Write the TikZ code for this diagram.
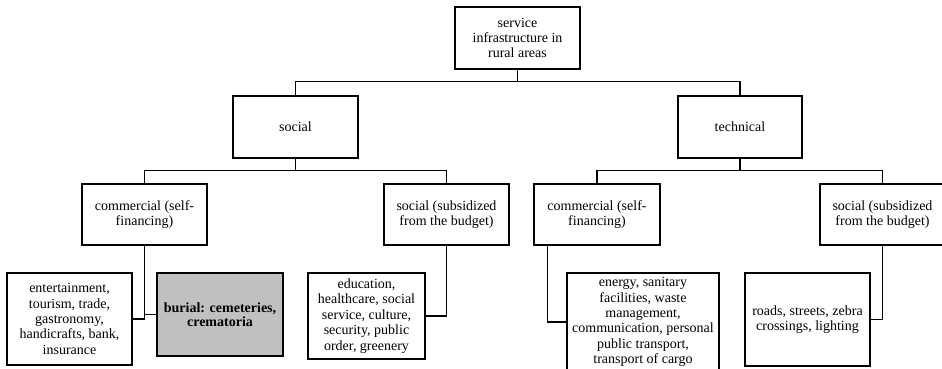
\documentclass[tikz,border=0pt]{standalone}
\usepackage{fontspec}
\setmainfont{Liberation Serif}
\usetikzlibrary{positioning}

\tikzset{
	box/.style={draw, line width=1.5pt, align=center, inner sep=2pt,
		font=\fontsize{14}{15.4}\selectfont},
	link/.style={line width=1.5pt}
}

\begin{document}
\begin{tikzpicture}[x=1pt,y=-1pt]

	\useasboundingbox (0,0) rectangle (942,368);

	% top levels
	\node[box, minimum width=125pt, minimum height=62pt] (root) at (517.5,38) {service\\ infrastructure in\\ rural areas};
	\node[box, minimum width=125pt, minimum height=62pt] (social) at (295.5,127) {social};
	\node[box, minimum width=124pt, minimum height=62pt] (technical) at (740,127) {technical};

	% financing
	\node[box, minimum width=125pt, minimum height=61pt] (comS) at (144.5,214.5) {commercial (self-\\ financing)};
	\node[box, minimum width=125pt, minimum height=61pt] (subS) at (446.5,214.5) {social (subsidized\\ from the budget)};
	\node[box, minimum width=126pt, minimum height=61pt] (comT) at (597,214.5) {commercial (self-\\ financing)};
	\node[box, minimum width=125pt, minimum height=61pt] (subT) at (882.5,214.5) {social (subsidized\\ from the budget)};

	% services
	\node[box, minimum width=125pt, minimum height=92pt] (ent) at (69.5,319) {entertainment,\\ tourism, trade,\\ gastronomy,\\ handicrafts, bank,\\ insurance};
	\node[box, fill={rgb,255:red,192;green,192;blue,192}, minimum width=126pt, minimum height=83pt,
		font=\fontsize{14}{14.4}\selectfont\bfseries] (burial) at (220,314.5) {burial: cemeteries,\\ crematoria};
	\node[box, minimum width=117pt, minimum height=86pt] (edu) at (366.5,316) {education,\\ healthcare, social\\ service, culture,\\ security, public\\ order, greenery};
	\node[box, minimum width=152pt, minimum height=98pt, inner xsep=0.5pt] (energy) at (643,322) {energy, sanitary\\ facilities, waste\\ management,\\ communication, personal\\ public transport,\\ transport of cargo};
	\node[box, minimum width=125pt, minimum height=93pt] (roads) at (807.5,319.5) {roads, streets, zebra\\ crossings, lighting};

	% connectors
	\draw[link] (social.north) -- ++(0,-14) coordinate (bus1) -| (technical.north);
	\draw[link] (root.south) -- (root.south |- bus1);
	\draw[link] (comS.north) -- ++(0,-13) coordinate (bus2) -| (subS.north);
	\draw[link] (social.south) -- (social.south |- bus2);
	\draw[link] (comT.north) -- ++(0,-13) coordinate (bus3) -| (subT.north);
	\draw[link] (technical.south) -- (technical.south |- bus3);

	\draw[link] (comS.south) |- (ent.east);
	\draw[link] (comS.south) |- (burial.west);
	\draw[link] (subS.south) |- (edu.east);
	\draw[link] ([xshift=14pt]comT.south west) |- (energy.west);
	\draw[link] (subT.south) |- (roads.east);

\end{tikzpicture}
\end{document}
